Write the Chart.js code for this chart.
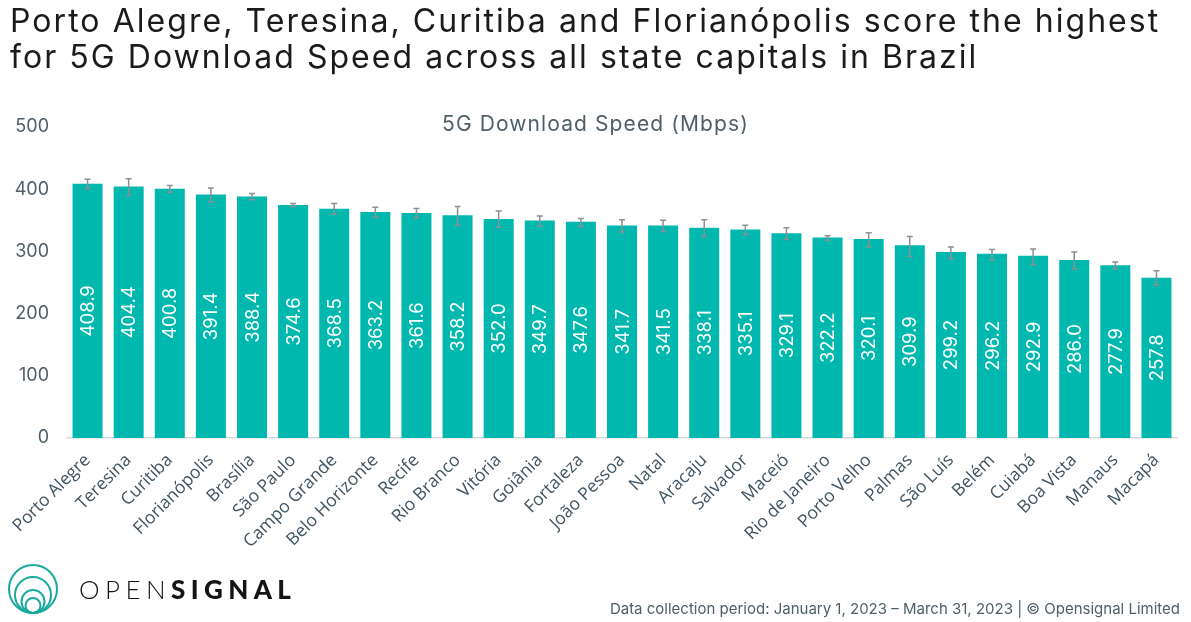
<!DOCTYPE html>
<html>
<head>
<meta charset="utf-8">
<script src="https://cdn.jsdelivr.net/npm/chart.js@4.4.0/dist/chart.umd.min.js"></script>
<style>
  html, body { margin: 0; padding: 0; background: #fff; }
  #wrap { position: relative; width: 1191px; height: 622px; overflow: hidden; font-family: Inter, "Open Sans", sans-serif; }
  #title { position: absolute; left: 10px; top: 3px; font-size: 32px; line-height: 36px; color: #1b1b1b; letter-spacing: 2.05px; white-space: nowrap; }
  #subtitle { position: absolute; left: 0; width: 1191px; top: 111px; text-align: center; font-size: 21px; letter-spacing: 1.1px; color: #4e5f68; }
  #footer { position: absolute; right: 11px; top: 599px; font-size: 15px; color: #4e5f68; }
  #logo { position: absolute; left: 8px; top: 563px; }
  #brand { position: absolute; left: 79px; top: 573px; font-size: 26px; letter-spacing: 5.4px; color: #141414; font-family: Lato, sans-serif; }
  #brand .open { font-weight: 300; }
  #brand .sig { font-weight: 900; }
  canvas { position: absolute; left: 0; top: 0; }
</style>
</head>
<body>
<div id="wrap">
  <canvas id="speedChart" width="1191" height="622"></canvas>
  <div id="title">Porto Alegre, Teresina, Curitiba and Florianópolis score the highest<br>for 5G Download Speed across all state capitals in Brazil</div>
  <div id="subtitle">5G Download Speed (Mbps)</div>
  <svg id="logo" width="52" height="52" viewBox="0 0 52 52">
    <g fill="none" stroke="#19a99d" stroke-width="2">
      <circle cx="25" cy="26" r="24"/>
      <circle cx="25" cy="32" r="18"/>
      <circle cx="25" cy="38.5" r="11.5"/>
      <circle cx="25" cy="42.5" r="7.5"/>
    </g>
  </svg>
  <div id="brand"><span class="open">OPEN</span><span class="sig">SIGNAL</span></div>
  <div id="footer">Data collection period: January 1, 2023 – March 31, 2023 | © Opensignal Limited</div>
</div>

<script>
const cities = ['Porto Alegre', 'Teresina', 'Curitiba', 'Florianópolis', 'Brasília', 'São Paulo',
  'Campo Grande', 'Belo Horizonte', 'Recife', 'Rio Branco', 'Vitória', 'Goiânia', 'Fortaleza',
  'João Pessoa', 'Natal', 'Aracaju', 'Salvador', 'Maceió', 'Rio de Janeiro', 'Porto Velho',
  'Palmas', 'São Luís', 'Belém', 'Cuiabá', 'Boa Vista', 'Manaus', 'Macapá'];

const downloadSpeed = [408.9, 404.4, 400.8, 391.4, 388.4, 374.6, 368.5, 363.2, 361.6, 358.2, 352.0,
  349.7, 347.6, 341.7, 341.5, 338.1, 335.1, 329.1, 322.2, 320.1, 309.9, 299.2, 296.2, 292.9,
  286.0, 277.9, 257.8];

// confidence interval bounds
const errLow = [401, 390, 395, 380, 383, 372, 360, 355, 354, 342, 339, 341, 340, 331, 332, 324,
  327, 319, 318, 307, 292, 288, 286, 279, 272, 272, 246];
const errHigh = [416, 417, 406, 402, 393, 377, 377, 371, 369, 372, 365, 357, 353, 351, 350, 351,
  342, 338, 325, 330, 324, 307, 303, 304, 299, 283, 269];

const yTicks = [0, 100, 200, 300, 400, 500];

const barExtras = {
  id: 'barExtras',
  afterDatasetsDraw(chart) {
    const ctx = chart.ctx;
    const y = chart.scales.y;
    const bars = chart.getDatasetMeta(0).data;
    ctx.save();
    // whiskers
    ctx.strokeStyle = '#8c9094';
    ctx.lineWidth = 1.5;
    bars.forEach((bar, i) => {
      const yl = y.getPixelForValue(errLow[i]);
      const yh = y.getPixelForValue(errHigh[i]);
      ctx.beginPath();
      ctx.moveTo(bar.x, yl); ctx.lineTo(bar.x, yh);
      ctx.moveTo(bar.x - 3, yl); ctx.lineTo(bar.x + 3, yl);
      ctx.moveTo(bar.x - 3, yh); ctx.lineTo(bar.x + 3, yh);
      ctx.stroke();
    });
    // value labels, rotated inside the bars
    ctx.fillStyle = '#ffffff';
    ctx.font = '18.5px Inter, "Open Sans", sans-serif';
    ctx.textAlign = 'center';
    ctx.textBaseline = 'middle';
    bars.forEach((bar, i) => {
      ctx.save();
      ctx.translate(bar.x, (bar.y + bar.base) / 2);
      ctx.rotate(-Math.PI / 2);
      ctx.fillText(downloadSpeed[i].toFixed(1), 0, 1);
      ctx.restore();
    });
    ctx.restore();
  }
};

new Chart(document.getElementById('speedChart'), {
  type: 'bar',
  data: {
    labels: cities,
    datasets: [{
      data: downloadSpeed,
      backgroundColor: '#00b8ae',
      borderWidth: 0,
      categoryPercentage: 1,
      barPercentage: 0.73
    }]
  },
  options: {
    responsive: false,
    animation: false,
    layout: { padding: { top: 127, right: 14, bottom: 0, left: 0 } },
    plugins: { legend: { display: false }, tooltip: { enabled: false } },
    scales: {
      x: {
        grid: { display: false, drawTicks: false },
        border: { color: '#d9d9d9', width: 1.5 },
        ticks: {
          color: '#3f5460',
          font: { family: '"Open Sans", sans-serif', size: 17.5 },
          minRotation: 45,
          maxRotation: 45,
          padding: 12,
          autoSkip: false
        },
        afterFit(scale) { scale.height = 184; }
      },
      y: {
        min: 0,
        max: 500,
        afterBuildTicks(scale) { scale.ticks = yTicks.map(v => ({ value: v })); },
        grid: { display: false, drawTicks: false },
        border: { display: false },
        ticks: {
          color: '#4e5f68',
          font: { family: 'Inter, "Open Sans", sans-serif', size: 18 },
          padding: 18
        },
        afterFit(scale) { scale.width = 67; }
      }
    }
  },
  plugins: [barExtras]
});
</script>
</body>
</html>
